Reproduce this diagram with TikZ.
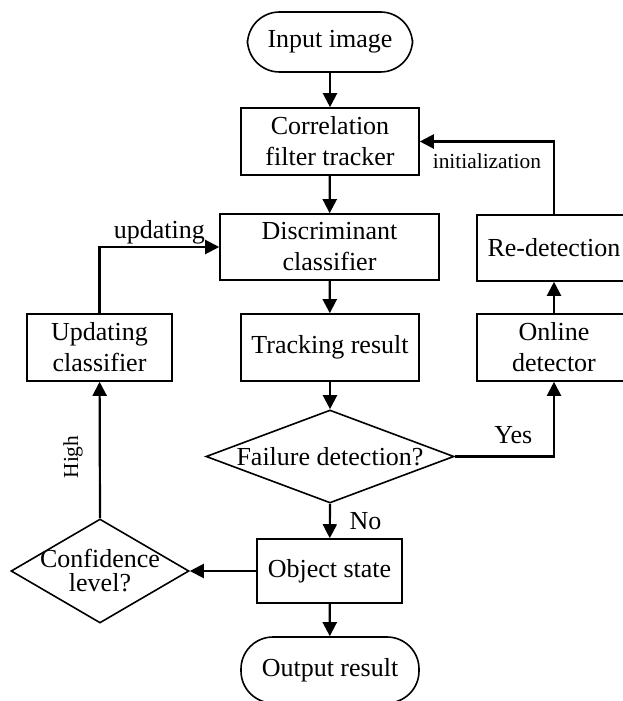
\documentclass[tikz,border=0pt]{standalone}
\usepackage{fontspec}
\setmainfont{Liberation Serif}
\usetikzlibrary{arrows.meta,shapes.geometric}

\tikzset{
  blk/.style={draw, line width=0.8pt, inner sep=0pt, align=center},
  term/.style={blk, rounded corners=16pt},
  dec/.style={draw, diamond, line width=0.8pt, inner sep=0pt},
  arr/.style={-{Triangle[length=7pt,width=7pt]}, line width=1.1pt},
  lbl/.style={font=\fontsize{10.7}{12}\selectfont}
}

\begin{document}
\begin{tikzpicture}[x=0.5pt, y=-0.5pt, font=\fontsize{13}{15.5}\selectfont]
\useasboundingbox (0,0) rectangle (622,701);
% main column
\node[term, minimum width=82.5pt, minimum height=30pt] (in) at (330,42) {Input image};
\node[blk, minimum width=89pt, minimum height=33.5pt] (cf) at (330,141.5) {Correlation\\filter tracker};
\node[blk, minimum width=109.5pt, minimum height=33pt] (dc) at (329.5,247) {Discriminant\\classifier};
\node[blk, minimum width=89pt, minimum height=33.5pt] (tr) at (330,347.5) {Tracking result};
\node[dec, minimum width=124pt, minimum height=46.5pt, label={center:Failure detection?}] (fd) at (330,456.5) {};
\node[blk, minimum width=72.5pt, minimum height=32pt] (os) at (329.5,571) {Object state};
\node[term, minimum width=89pt, minimum height=33pt] (out) at (330,670) {Output result};
% left branch
\node[blk, minimum width=72.5pt, minimum height=33.5pt] (uc) at (99.5,347.5) {Updating\\classifier};
\node[dec, minimum width=89pt, minimum height=52pt,
  label={[align=center, font=\fontsize{13}{12}\selectfont]center:{Confidence\\level?}}] (cl) at (100,571) {};
% right branch
\node[blk, minimum width=77pt, minimum height=33pt] (rd) at (554,248) {Re-detection};
\node[blk, minimum width=77pt, minimum height=33.5pt] (od) at (554,347.5) {Online\\detector};

% connectors
\draw[arr] (in) -- (cf);
\draw[arr] (cf) -- (dc);
\draw[arr] (dc) -- (tr);
\draw[arr] (tr) -- (fd.north);
\draw[arr] (fd.south) -- node[right, xshift=6pt] {No} (os);
\draw[arr] (os) -- (out);
\draw[arr] (os.west) -- (cl.east);
\draw[arr] (cl.north) -- node[lbl, rotate=90, anchor=south, inner sep=8pt, xshift=-3.5pt] {High} (uc);
\draw[arr] (uc.north) |- node[pos=0.75, above, inner sep=1pt] {updating} (dc.west);
\draw[arr] (fd.east) -| node[pos=0.25, above, xshift=4.5pt, yshift=2.5pt] {Yes} (od.south);
\draw[arr] (od) -- (rd);
\draw[arr] (rd.north) |- node[lbl, pos=0.75, below, yshift=-2pt] {initialization} (cf.east);
\end{tikzpicture}
\end{document}
